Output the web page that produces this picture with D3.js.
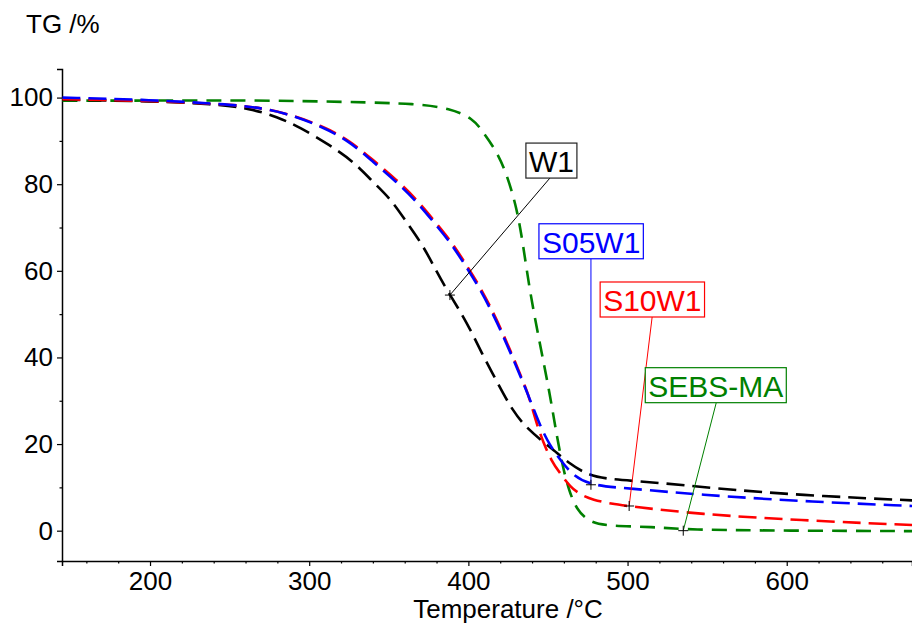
<!DOCTYPE html>
<html>
<head>
<meta charset="utf-8">
<script src="https://cdn.jsdelivr.net/npm/d3@7"></script>
<style>
  body { margin: 0; background: #fff; }
  svg { display: block; font-family: Arial, "Liberation Sans", sans-serif; }
</style>
</head>
<body>
<script>
// TG curves (temperature in °C, mass in %)
const w1T   = [145, 200, 240, 263, 280, 294, 313, 328, 340, 351, 361, 371.5, 380, 388.4, 399, 409, 418, 428, 437, 447, 456, 462, 474.5, 487, 516, 554, 608, 679];
const w1V   = [99.5, 99.2, 98.5, 97.5, 95.5, 93.2, 89.0, 85.2, 80.5, 76.7, 71.3, 65.9, 59.8, 54.4, 48.2, 40.5, 34.4, 27.5, 23.6, 20.5, 17.9, 15.9, 12.9, 11.9, 11.2, 9.8, 8.2, 7.0];

const s05T  = [145, 200, 250, 263, 283.5, 309, 325.6, 340, 355, 367.7, 378, 388.4, 396.6, 407.3, 418, 428, 436.8, 445, 451, 458, 466, 478, 500, 545, 608, 679];
const s05V  = [100.0, 99.5, 98.4, 97.9, 96.7, 93.2, 89.8, 85.2, 80.5, 75.9, 71.3, 66.7, 62.1, 55.9, 48.2, 39.8, 32.1, 24.2, 19.8, 16.2, 12.6, 10.4, 9.8, 8.3, 6.8, 5.7];

const s10T  = [145, 200, 250, 263, 283.5, 309, 325.6, 340, 355, 367.7, 378, 388.4, 396.6, 407.3, 418, 428, 436.8, 440, 443.5, 447, 452, 457.5, 464, 470, 478.3, 490, 500, 545, 608, 679];
const s10V  = [99.6, 99.3, 98.4, 97.9, 96.7, 93.4, 90.0, 85.6, 81.0, 76.4, 71.8, 67.2, 62.6, 56.4, 48.7, 40.2, 32.4, 28.5, 24.0, 20.5, 16.2, 13.3, 10.1, 8.4, 7.1, 6.2, 5.7, 3.8, 2.4, 1.3];

const sebsT = [145, 200, 263, 326, 368, 388.4, 403, 409, 418, 424.3, 430.5, 434.4, 438.7, 445, 451, 455.7, 459.5, 463, 468, 476, 487, 516, 537, 600, 679];
const sebsV = [99.3, 99.3, 99.4, 99.0, 98.6, 97.5, 95.2, 92.1, 87.5, 82.1, 74.4, 66.0, 55.0, 43.0, 32.0, 21.5, 14.5, 9.5, 4.8, 2.0, 1.1, 0.9, 0.2, 0.0, -0.1];

const seriesNames = ["W1", "S05W1", "S10W1", "SEBS-MA"];
const seriesColors = ["#000000", "#0000ff", "#ff0000", "#008000"];
const seriesDash = ["18,8", "18,8", "18,8", "15,9"];

// label anchor points on each curve (°C, %)
const anchorT = [388.4, 477, 501, 535];
const anchorV = [54.4, 10.6, 5.7, 0];

const xTicks = [200, 300, 400, 500, 600];
const yTicks = [0, 20, 40, 60, 80, 100];

const width = 912, height = 625;
const margin = {top: 69, right: 0, bottom: 64, left: 62};

const x = d3.scaleLinear().domain([144.7, 678.7]).range([margin.left, width - margin.right]);
const y = d3.scaleLinear().domain([-7.0, 106.6]).range([height - margin.bottom, margin.top]);

const svg = d3.select("body").append("svg")
    .attr("width", width)
    .attr("height", height);

// axes
const xAxis = svg.append("g")
    .attr("transform", `translate(0,${height - margin.bottom})`)
    .call(d3.axisBottom(x).tickValues(xTicks).tickSize(5).tickPadding(6).tickFormat(d3.format("d")));
const xMinor = svg.append("g")
    .attr("transform", `translate(0,${height - margin.bottom})`)
    .call(d3.axisBottom(x).tickValues(d3.range(160, 679, 20).filter(v => v % 100 != 0)).tickSize(2.5).tickFormat(""));

const yAxis = svg.append("g")
    .attr("transform", `translate(${margin.left},0)`)
    .call(d3.axisLeft(y).tickValues(yTicks).tickSize(5).tickPadding(4).tickFormat(d3.format("d")));
const yMinor = svg.append("g")
    .attr("transform", `translate(${margin.left},0)`)
    .call(d3.axisLeft(y).tickValues([10, 30, 50, 70, 90]).tickSize(2.5).tickFormat(""));

[xAxis, xMinor, yAxis, yMinor].forEach(g => {
    g.select(".domain").attr("stroke-width", 1.5);
    g.selectAll(".tick line").attr("stroke-width", 1.2);
    g.selectAll("text").attr("font-size", 26).attr("font-family", "Arial, 'Liberation Sans', sans-serif").attr("fill", "#000");
});
xMinor.select(".domain").remove();
yMinor.select(".domain").remove();

svg.append("text")
    .attr("x", 26).attr("y", 33)
    .attr("font-size", 26)
    .text("TG /%");

svg.append("text")
    .attr("x", 508).attr("y", 618)
    .attr("text-anchor", "middle")
    .attr("font-size", 26)
    .text("Temperature /°C");

// curves
const allT = [w1T, s05T, s10T, sebsT];
const allV = [w1V, s05V, s10V, sebsV];

const line = d3.line()
    .x(d => x(d[0]))
    .y(d => y(d[1]))
    .curve(d3.curveBasis);

svg.append("clipPath").attr("id", "plot")
    .append("rect")
    .attr("x", margin.left).attr("y", margin.top)
    .attr("width", width - margin.left - margin.right)
    .attr("height", height - margin.top - margin.bottom);

const curves = svg.append("g").attr("clip-path", "url(#plot)");

// draw green first so the others lie over it at the start
[3, 0, 2, 1].forEach(i => {
    curves.append("path")
        .datum(d3.zip(allT[i], allV[i]))
        .attr("fill", "none")
        .attr("stroke", seriesColors[i])
        .attr("stroke-width", 2.6)
        .attr("stroke-dasharray", seriesDash[i])
        .attr("d", line);
});

// callout labels: box top-left offset in px relative to the anchor point
const boxDx = [76, -52, -29, -38];
const boxDy = [-152, -261, -224, -163];
const lineDx = [100, 0, 23, 33];

const notes = svg.append("g");
seriesNames.forEach((name, i) => {
    const ax = x(anchorT[i]), ay = y(anchorV[i]);
    const g = notes.append("g");
    const txt = g.append("text")
        .attr("font-size", 30)
        .attr("fill", seriesColors[i])
        .text(name);
    const bb = txt.node().getBBox();
    const bw = bb.width + 6, bh = 35;
    const bx = ax + boxDx[i];
    const by = ay + boxDy[i];
    txt.attr("x", bx + 3).attr("y", by + 29);
    g.insert("rect", "text")
        .attr("x", bx).attr("y", by)
        .attr("width", bw).attr("height", bh)
        .attr("fill", "#fff")
        .attr("stroke", i === 0 ? "#222" : seriesColors[i])
        .attr("stroke-width", 1.2);
    const lx = ax + lineDx[i];
    g.insert("line", "rect")
        .attr("x1", lx).attr("y1", by + bh)
        .attr("x2", ax).attr("y2", ay)
        .attr("stroke", seriesColors[i])
        .attr("stroke-width", 1);
    // small cross marker at the anchor
    g.append("path")
        .attr("d", `M${ax - 5},${ay}H${ax + 5}M${ax},${ay - 5}V${ay + 5}`)
        .attr("stroke", "#000")
        .attr("stroke-width", 1);
});
</script>
</body>
</html>
